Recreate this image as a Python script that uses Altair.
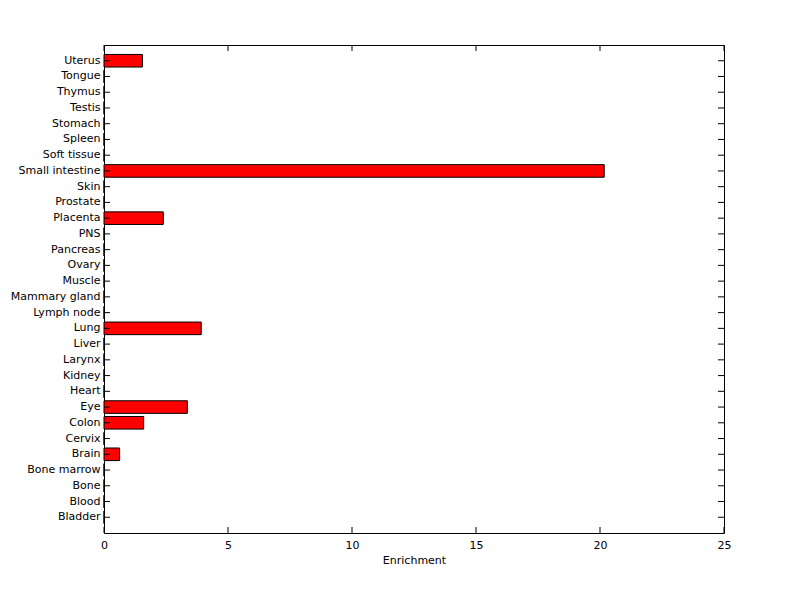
import altair as alt
import pandas as pd

categories = ["Bladder", "Blood", "Bone", "Bone marrow", "Brain", "Cervix", "Colon", "Eye",
              "Heart", "Kidney", "Larynx", "Liver", "Lung", "Lymph node", "Mammary gland",
              "Muscle", "Ovary", "Pancreas", "PNS", "Placenta", "Prostate", "Skin",
              "Small intestine", "Soft tissue", "Spleen", "Stomach", "Testis", "Thymus",
              "Tongue", "Uterus"]
values = [0, 0, 0, 0, 0.63, 0, 1.6, 3.36,
          0, 0, 0, 0, 3.92, 0, 0,
          0, 0, 0, 0, 2.39, 0, 0,
          20.17, 0, 0, 0, 0, 0,
          0, 1.55]
x_ticks = [0, 5, 10, 15, 20, 25]

W, H = 620, 488
FONT = "DejaVu Sans"

df = pd.DataFrame({"cat": categories, "val": values})
tick_df = pd.DataFrame({"t": x_ticks})
order = categories[::-1]

yscale = alt.Scale(domain=order, paddingInner=0.2, paddingOuter=0.6)
xscale = alt.Scale(domain=[0, 25], nice=False, zero=True)

bars = alt.Chart(df).mark_bar(color="#ff0000", stroke="black", strokeWidth=1).encode(
    x=alt.X("val:Q", scale=xscale,
            axis=alt.Axis(title="Enrichment", values=x_ticks, ticks=False, domain=False,
                          grid=False, labelPadding=6, titlePadding=4, labelFontSize=11,
                          titleFontSize=11, labelFont=FONT, titleFont=FONT, labelFlush=False,
                          titleFontWeight="normal", labelColor="black", titleColor="black")),
    y=alt.Y("cat:N", sort=order, scale=yscale,
            axis=alt.Axis(title=None, ticks=False, domain=False, grid=False, labelPadding=4,
                          labelFontSize=11, labelFont=FONT, labelColor="black")),
)

ytick_l = alt.Chart(df).mark_rule(color="black", strokeWidth=1).encode(
    y=alt.Y("cat:N", sort=order, scale=yscale), x=alt.value(0), x2=alt.value(6))
ytick_r = alt.Chart(df).mark_rule(color="black", strokeWidth=1).encode(
    y=alt.Y("cat:N", sort=order, scale=yscale), x=alt.value(W - 6), x2=alt.value(W))
xtick_b = alt.Chart(tick_df).mark_rule(color="black", strokeWidth=1).encode(
    x=alt.X("t:Q", scale=xscale), y=alt.value(H), y2=alt.value(H - 6))
xtick_t = alt.Chart(tick_df).mark_rule(color="black", strokeWidth=1).encode(
    x=alt.X("t:Q", scale=xscale), y=alt.value(0), y2=alt.value(6))

chart = alt.layer(bars, ytick_l, ytick_r, xtick_b, xtick_t).properties(
    width=W, height=H,
    autosize=alt.AutoSizeParams(type="none"),
    padding={"left": 96, "top": 37, "right": 60, "bottom": 50},
    background="white",
).configure_view(stroke="black", strokeWidth=1)

chart.save("out.html", embed_options={"renderer": "svg", "actions": False})
